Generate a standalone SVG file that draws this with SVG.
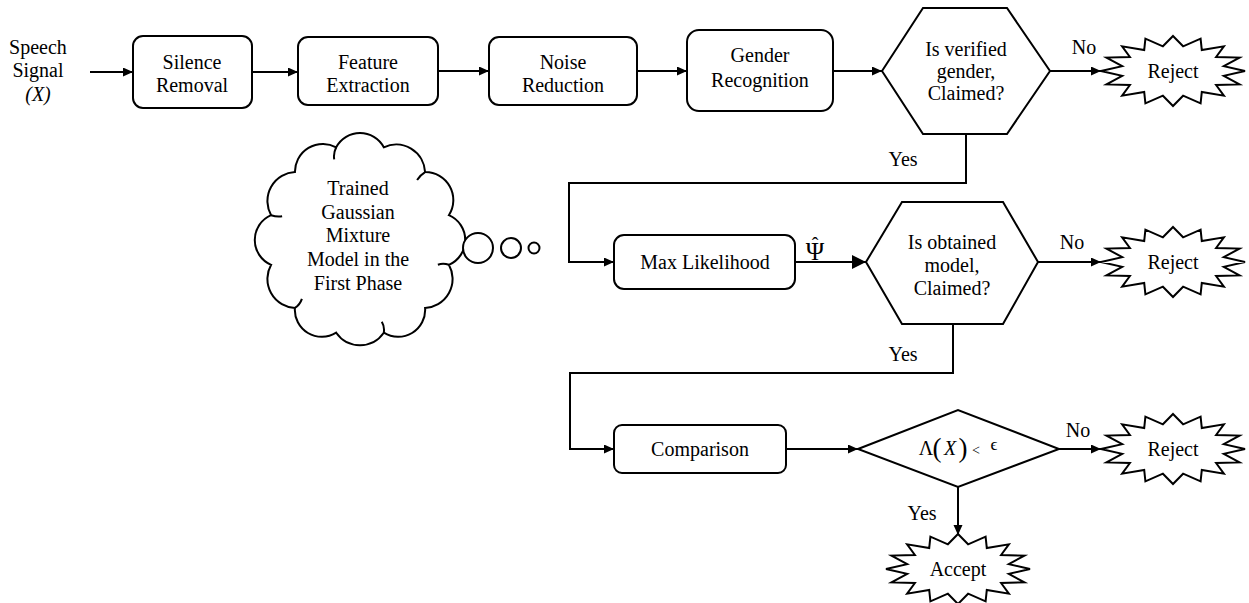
<svg xmlns="http://www.w3.org/2000/svg" width="1249" height="603" viewBox="0 0 1249 603" font-family="'Liberation Serif', 'Times New Roman', Times, 'DejaVu Serif', serif">
<style>
.t{font-family:'Liberation Serif','Times New Roman',Times,'DejaVu Serif',serif;font-size:20px;fill:#000;text-anchor:middle}
.box{fill:#fff;stroke:#000;stroke-width:2}
.ln{fill:none;stroke:#000;stroke-width:2}
.ar{marker-end:url(#ah)}
.arb{marker-end:url(#ahb)}
</style>
<defs>
<marker id="ah" markerUnits="userSpaceOnUse" markerWidth="11" markerHeight="10" refX="10" refY="4.5" orient="auto"><path d="M0,0 L10,4.5 L0,9 Z" fill="#000"/></marker>
<marker id="ahb" markerUnits="userSpaceOnUse" markerWidth="15" markerHeight="15" refX="14" refY="7" orient="auto"><path d="M0,0 L14,7 L0,14 Z" fill="#000"/></marker>
<path id="star" d="M0,-35 L10.1,-24.7 L27.6,-32.3 L28.8,-21 L50.9,-24.7 L43.1,-14 L66.5,-13.4 L50.8,-4.9 L72,0 L50.8,4.9 L66.5,13.4 L43.1,14 L50.9,24.7 L28.8,21 L27.6,32.3 L10.1,24.7 L0,35 L-10.1,24.7 L-27.6,32.3 L-28.8,21 L-50.9,24.7 L-43.1,14 L-66.5,13.4 L-50.8,4.9 L-72,0 L-50.8,-4.9 L-66.5,-13.4 L-43.1,-14 L-50.9,-24.7 L-28.8,-21 L-27.6,-32.3 L-10.1,-24.7 Z" fill="#fff" stroke="#000" stroke-width="2"/>
</defs>
<rect width="1249" height="603" fill="#fff"/>

<g id="connectors">
<line class="ln ar" x1="90" y1="72" x2="133" y2="72"/>
<line class="ln ar" x1="252" y1="72" x2="298" y2="72"/>
<line class="ln ar" x1="438" y1="71" x2="489" y2="71"/>
<line class="ln ar" x1="637" y1="71" x2="687" y2="71"/>
<line class="ln ar" x1="833" y1="71" x2="882" y2="71"/>
<line class="ln ar" x1="1050" y1="71" x2="1101" y2="71"/>
<polyline class="ln ar" points="966,134 966,183 569,183 569,262 614,262"/>
<line class="ln arb" x1="795" y1="262" x2="866" y2="262"/>
<line class="ln ar" x1="1038" y1="262" x2="1101" y2="262"/>
<polyline class="ln ar" points="953,324 953,373 570,373 570,449 614,449"/>
<line class="ln ar" x1="786" y1="449" x2="858" y2="449"/>
<line class="ln ar" x1="1059" y1="449" x2="1101" y2="449"/>
<line class="ln ar" x1="958" y1="487" x2="958" y2="535"/>
<text class="t" x="1084" y="54">No</text>
<text class="t" x="903" y="166">Yes</text>
<text class="t" x="1072" y="249">No</text>
<text class="t" x="903" y="361">Yes</text>
<text class="t" x="1078" y="437">No</text>
<text class="t" x="922" y="520">Yes</text>
<text class="t" x="815" y="260" style="font-size:25px">Ψ<tspan x="815" y="252" style="font-size:20px">ˆ</tspan></text>
</g>

<g id="speech-signal">
<text class="t" x="38" y="54">Speech</text>
<text class="t" x="38" y="77">Signal</text>
<text class="t" x="38" y="101" font-style="italic">(X)</text>
</g>

<g id="silence-removal">
<rect class="box" x="133" y="36" width="119" height="72" rx="10"/>
<text class="t" x="192" y="69">Silence</text>
<text class="t" x="192" y="92">Removal</text>
</g>

<g id="feature-extraction">
<rect class="box" x="298" y="37" width="140" height="68" rx="10"/>
<text class="t" x="368" y="69">Feature</text>
<text class="t" x="368" y="92">Extraction</text>
</g>

<g id="noise-reduction">
<rect class="box" x="489" y="37" width="148" height="68" rx="10"/>
<text class="t" x="563" y="69">Noise</text>
<text class="t" x="563" y="92">Reduction</text>
</g>

<g id="gender-recognition">
<rect class="box" x="687" y="30" width="146" height="81" rx="12"/>
<text class="t" x="760" y="62">Gender</text>
<text class="t" x="760" y="87">Recognition</text>
</g>

<g id="gender-check">
<polygon class="box" points="882,71 923,8 1007,8 1050,71 1007,134 923,134"/>
<text class="t" x="966" y="56">Is verified</text>
<text class="t" x="966" y="78">gender,</text>
<text class="t" x="966" y="100">Claimed?</text>
</g>

<g id="reject-1">
<use href="#star" x="1173" y="71"/>
<text class="t" x="1173" y="78">Reject</text>
</g>

<g id="gmm-cloud">
<path class="box" d="M336.2,147.3 A27,27 0 0 1 383.8,147.3 A29,29 0 0 1 425.1,172.1 A28,28 0 0 1 448.9,215.2 A27,27 0 0 1 448.9,264.8 A29,29 0 0 1 425.1,307.9 A27,27 0 0 1 383.8,332.7 A29,29 0 0 1 336.2,332.7 A27,27 0 0 1 294.9,307.9 A29,29 0 0 1 271.1,264.8 A27,27 0 0 1 271.1,215.2 A29,29 0 0 1 294.9,172.1 A28,28 0 0 1 336.2,147.3 Z"/>
<path class="ln" d="M336.2,147.3 q-3,6 -2,12 M425.1,172.1 q-5,3 -8,8 M448.9,264.8 q-6,-2 -11,0 M383.8,332.7 q1,-6 -2,-11 M294.9,307.9 q5,-3 7,-9 M271.1,215.2 q6,2 11,1"/>
<circle class="box" cx="478" cy="248" r="15"/>
<circle class="box" cx="511" cy="248" r="10"/>
<circle class="box" cx="534" cy="248" r="5.5"/>
<text class="t" x="358" y="195">Trained</text>
<text class="t" x="358" y="219">Gaussian</text>
<text class="t" x="358" y="242">Mixture</text>
<text class="t" x="358" y="266">Model in the</text>
<text class="t" x="358" y="290">First Phase</text>
</g>

<g id="max-likelihood">
<rect class="box" x="614" y="235" width="181" height="54" rx="10"/>
<text class="t" x="705" y="269">Max Likelihood</text>
</g>

<g id="model-check">
<polygon class="box" points="866,262 902,202 1003,202 1038,262 1003,324 902,324"/>
<text class="t" x="952" y="249">Is obtained</text>
<text class="t" x="952" y="272">model,</text>
<text class="t" x="952" y="295">Claimed?</text>
</g>

<g id="reject-2">
<use href="#star" x="1173" y="262"/>
<text class="t" x="1173" y="269">Reject</text>
</g>

<g id="comparison">
<rect class="box" x="614" y="425" width="172" height="48" rx="8"/>
<text class="t" x="700" y="456">Comparison</text>
</g>

<g id="threshold-check">
<polygon class="box" points="858,449 958,410 1059,449 958,487"/>
<text class="t" x="926" y="455">Λ</text>
<text class="t" x="937" y="457" style="font-size:27px">(</text>
<text class="t" x="950" y="455" font-style="italic">X</text>
<text class="t" x="963" y="457" style="font-size:27px">)</text>
<text class="t" x="976" y="455" style="font-size:14px">&lt;</text>
<text class="t" x="994" y="450" style="font-size:17px">ϵ</text>
</g>

<g id="reject-3">
<use href="#star" x="1173" y="449"/>
<text class="t" x="1173" y="456">Reject</text>
</g>

<g id="accept">
<use href="#star" x="958" y="569"/>
<text class="t" x="958" y="576">Accept</text>
</g>
</svg>
